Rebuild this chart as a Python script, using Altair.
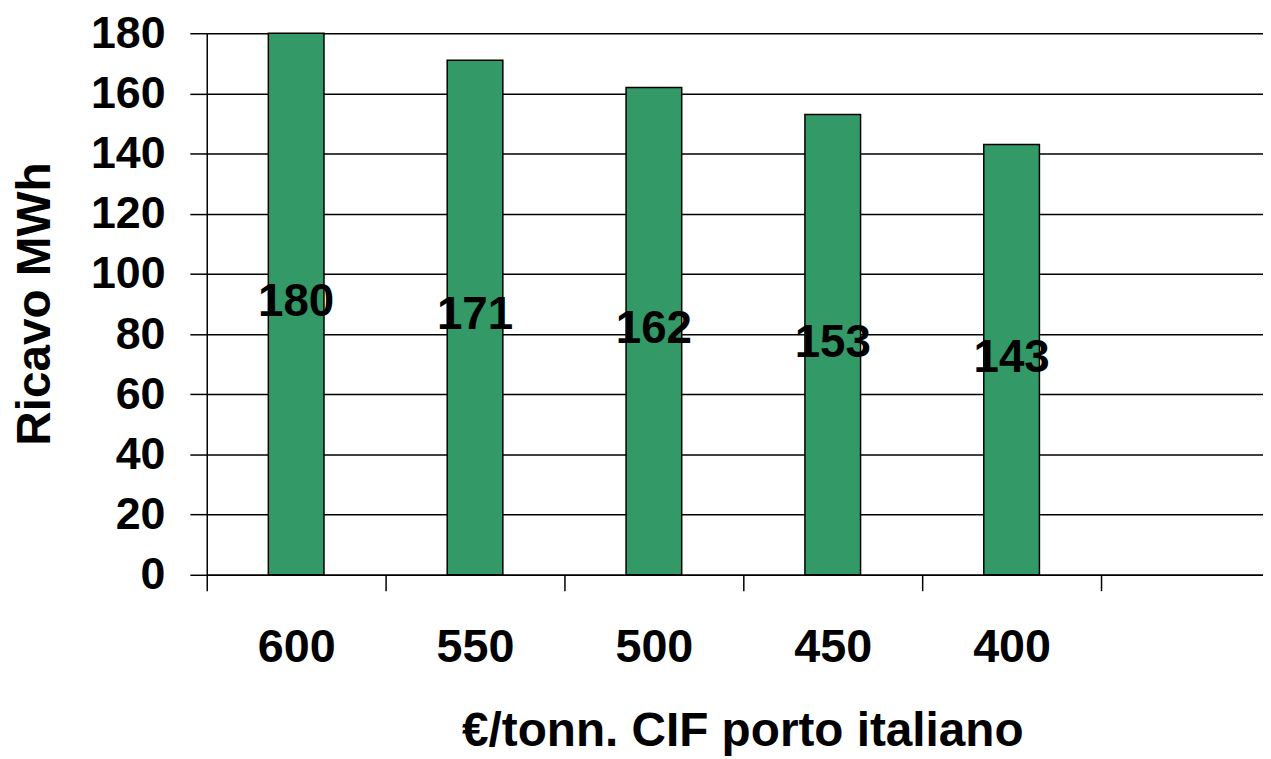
import altair as alt
import pandas as pd

# Data
categories = ["600", "550", "500", "450", "400"]
values = [180, 171, 162, 153, 143]
x_domain = categories + [""]          # empty sixth slot on the category axis
y_ticks = [0, 20, 40, 60, 80, 100, 120, 140, 160, 180]

df = pd.DataFrame({"prezzo": categories, "ricavo": values})

FONT = "Liberation Sans"
BAR = "#339966"

x_enc = alt.X(
    "prezzo:N",
    sort=None,
    scale=alt.Scale(domain=x_domain, range=[0, 1080], paddingInner=0, paddingOuter=0),
    axis=alt.Axis(
        title="€/tonn. CIF porto italiano",
        labelAngle=0,
        labelFont=FONT, labelFontSize=47, labelFontWeight="bold", labelColor="black",
        labelPadding=34,
        tickSize=16, tickColor="black", tickWidth=1.5, tickBand="extent",
        domainColor="black", domainWidth=1.5,
        grid=False,
        titleFont=FONT, titleFontSize=48, titleFontWeight="bold", titleColor="black",
        titleX=539, titleY=172, titleBaseline="alphabetic", titleAlign="center",
    ),
)

y_axis = alt.Axis(
    title="Ricavo MWh",
    values=y_ticks,
    labelFont=FONT, labelFontSize=45, labelFontWeight="bold", labelColor="black",
    labelPadding=25,
    tickSize=17, tickColor="black", tickWidth=1.5,
    domainColor="black", domainWidth=1.5,
    grid=True, gridColor="black", gridWidth=1.5, gridOpacity=1,
    titleFont=FONT, titleFontSize=48, titleFontWeight="bold", titleColor="black",
    titleX=-172, titleY=272, titleAngle=270, titleBaseline="middle", titleAlign="center",
)

y_scale = alt.Scale(domain=[0, 180], nice=False)

bars = alt.Chart(df).mark_bar(
    color=BAR, stroke="black", strokeWidth=1.5, width=56
).encode(
    x=x_enc,
    y=alt.Y("ricavo:Q", scale=y_scale, axis=y_axis),
)

labels = alt.Chart(df).transform_calculate(
    mid="datum.ricavo / 2"
).mark_text(
    font=FONT, fontSize=46, fontWeight="bold", color="black", baseline="middle", align="center",
    dy=-2,
).encode(
    x=x_enc,
    y=alt.Y("mid:Q", scale=y_scale, axis=y_axis),
    text=alt.Text("ricavo:Q"),
)

chart = alt.layer(bars, labels).properties(
    width=1063,
    height=545,
    autosize=alt.AutoSizeParams(type="none"),
    padding={"left": 200, "top": 23, "right": 0, "bottom": 183},
    background="white",
).configure_view(stroke=None)

chart.save("out.html", embed_options={"renderer": "svg", "actions": False})
